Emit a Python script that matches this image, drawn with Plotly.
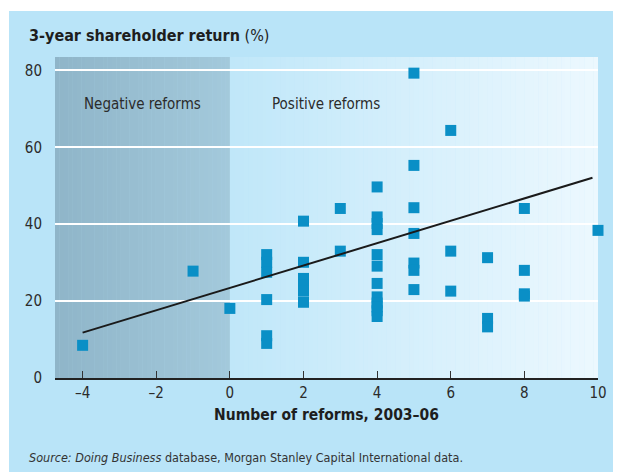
import plotly.graph_objects as go

# ---- data ----
reforms = [-4, -1, 0,
           1, 1, 1, 1, 1, 1,
           2, 2, 2, 2, 2, 2,
           3, 3,
           4, 4, 4, 4, 4, 4, 4, 4, 4, 4, 4, 4,
           5, 5, 5, 5, 5, 5, 5,
           6, 6, 6,
           7, 7, 7,
           8, 8, 8, 8,
           10]
returns = [8.5, 27.8, 18.1,
           32.1, 30.1, 27.5, 20.4, 11.0, 9.0,
           40.8, 30.1, 25.9, 24.2, 22.6, 19.7,
           44.1, 33.0,
           49.7, 41.9, 40.2, 38.6, 32.1, 29.1, 24.6, 21.1, 19.5, 17.5, 16.0, 18.5,
           79.3, 55.3, 44.3, 37.6, 29.9, 28.0, 23.0,
           64.4, 33.0, 22.6,
           31.3, 15.5, 13.3,
           44.1, 28.0, 21.9, 21.3,
           38.4]
trend_x = [-4, 9.85]
trend_y = [11.8, 52.1]
x_ticks = [-4, -2, 0, 2, 4, 6, 8, 10]
x_tick_labels = ["\u20134", "\u20132", "0", "2", "4", "6", "8", "10"]
y_ticks = [0, 20, 40, 60, 80]

FONT = "DejaVu Sans Condensed, Liberation Sans Narrow, sans-serif"
TXT = "#2b2b2b"

fig = go.Figure()
fig.add_trace(go.Scatter(x=reforms, y=returns, mode="markers", cliponaxis=False,
                         marker=dict(symbol="square", size=11, color="#0a8fc6",
                                     line=dict(width=0)),
                         showlegend=False, hoverinfo="x+y"))
fig.add_trace(go.Scatter(x=trend_x, y=trend_y, mode="lines",
                         line=dict(color="#1a1a1a", width=2),
                         showlegend=False, hoverinfo="skip"))

def lerp(c1, c2, t):
    return "rgb(%d,%d,%d)" % tuple(round(a + (b - a) * t) for a, b in zip(c1, c2))

shapes = []
# outer light-blue panel
shapes.append(dict(type="rect", xref="paper", yref="paper", x0=-0.0847, x1=1.2,
                   y0=-0.4, y1=1.1433, fillcolor="#b9e4f8", line=dict(width=0),
                   layer="below"))
xmin, xmax = -4.75, 10
n = 40
for i in range(n):
    a = xmin + (0 - xmin) * i / n
    b = xmin + (0 - xmin) * (i + 1) / n
    shapes.append(dict(type="rect", xref="x", yref="paper", x0=a, x1=b + 0.01, y0=0, y1=1,
                       fillcolor=lerp((143, 181, 201), (163, 201, 219), i / (n - 1)),
                       line=dict(width=0), layer="below"))
n = 80
for i in range(n):
    a = 0 + (xmax - 0) * i / n
    b = 0 + (xmax - 0) * (i + 1) / n
    shapes.append(dict(type="rect", xref="x", yref="paper", x0=a, x1=b + 0.01, y0=0, y1=1,
                       fillcolor=lerp((192, 231, 249), (236, 248, 254), i / (n - 1)),
                       line=dict(width=0), layer="below"))

fig.update_layout(
    width=605, height=464,
    margin=dict(l=47, r=15, t=49, b=94, autoexpand=False),
    paper_bgcolor="white", plot_bgcolor="rgba(0,0,0,0)",
    shapes=shapes,
    font=dict(family=FONT, color=TXT, size=15),
    xaxis=dict(range=[xmin, xmax], tickvals=x_ticks, ticktext=x_tick_labels,
               showgrid=False, zeroline=False, showline=True, linecolor="#222",
               linewidth=2, ticks="inside", ticklen=7, tickcolor="#333", tickwidth=1,
               tickfont=dict(size=15, family=FONT, color=TXT), automargin=False,
               title=dict(text="<b>Number of reforms, 2003\u201306</b>",
                          font=dict(size=15.5, family=FONT, color="#1e1e1e"),
                          standoff=8)),
    yaxis=dict(range=[0, 83.5], tickvals=y_ticks, showgrid=True,
               gridcolor="white", gridwidth=1.5, zeroline=False, showline=False,
               ticks="", ticklabelstandoff=12, automargin=False,
               tickfont=dict(size=15, family=FONT, color=TXT)),
    annotations=[
        dict(text="<b>3-year shareholder return</b> (%)", xref="paper", yref="paper",
             x=-0.0516, y=1.0685, xanchor="left", yanchor="middle", showarrow=False,
             font=dict(size=16, family=FONT, color="#1e1e1e")),
        dict(text="Negative reforms", xref="x", yref="y", x=-2.38, y=71.4,
             showarrow=False, font=dict(size=15, family=FONT, color=TXT)),
        dict(text="Positive reforms", xref="x", yref="y", x=2.6, y=71.4,
             showarrow=False, font=dict(size=15, family=FONT, color=TXT)),
        dict(text="<i>Source: Doing Business</i> database, Morgan Stanley Capital International data.",
             xref="paper", yref="paper", x=-0.0516, y=-0.249, xanchor="left",
             yanchor="middle", showarrow=False,
             font=dict(size=12.5, family=FONT, color="#333")),
    ],
)

fig.write_html("out.html")
